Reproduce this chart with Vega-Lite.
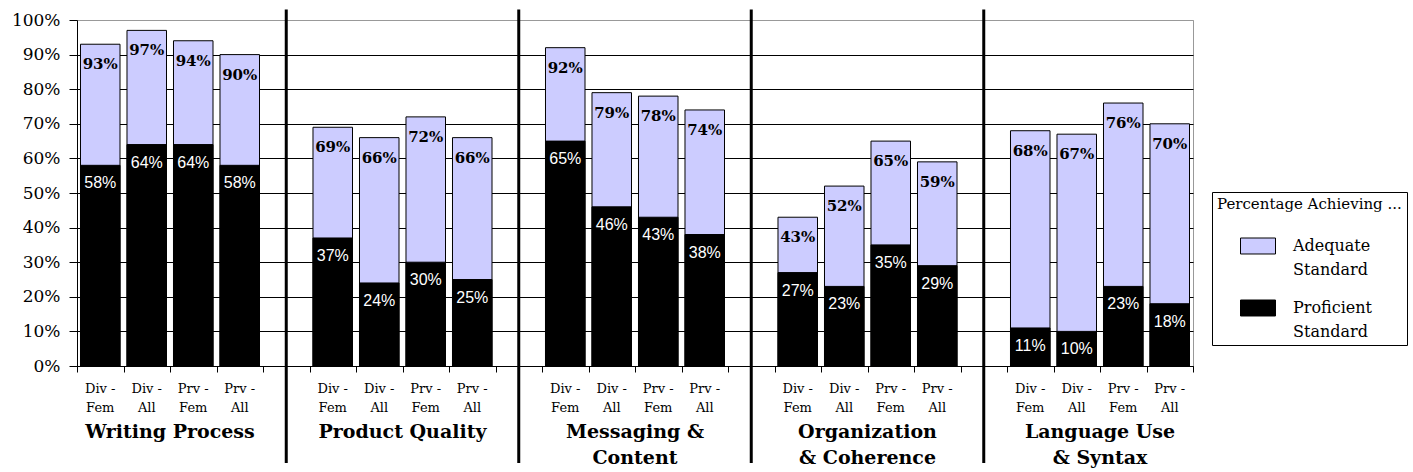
{
  "$schema": "https://vega.github.io/schema/vega-lite/v6.json",
  "width": 1116,
  "height": 346,
  "autosize": {"type": "none"},
  "padding": {"left": 77, "top": 20, "right": 220, "bottom": 106},
  "background": "white",
  "datasets": {
    "bars": [
      {"slot": "WP1", "measure": "Adequate Standard", "value": 0.93},
      {"slot": "WP2", "measure": "Adequate Standard", "value": 0.97},
      {"slot": "WP3", "measure": "Adequate Standard", "value": 0.94},
      {"slot": "WP4", "measure": "Adequate Standard", "value": 0.90},
      {"slot": "PQ1", "measure": "Adequate Standard", "value": 0.69},
      {"slot": "PQ2", "measure": "Adequate Standard", "value": 0.66},
      {"slot": "PQ3", "measure": "Adequate Standard", "value": 0.72},
      {"slot": "PQ4", "measure": "Adequate Standard", "value": 0.66},
      {"slot": "MC1", "measure": "Adequate Standard", "value": 0.92},
      {"slot": "MC2", "measure": "Adequate Standard", "value": 0.79},
      {"slot": "MC3", "measure": "Adequate Standard", "value": 0.78},
      {"slot": "MC4", "measure": "Adequate Standard", "value": 0.74},
      {"slot": "OC1", "measure": "Adequate Standard", "value": 0.43},
      {"slot": "OC2", "measure": "Adequate Standard", "value": 0.52},
      {"slot": "OC3", "measure": "Adequate Standard", "value": 0.65},
      {"slot": "OC4", "measure": "Adequate Standard", "value": 0.59},
      {"slot": "LU1", "measure": "Adequate Standard", "value": 0.68},
      {"slot": "LU2", "measure": "Adequate Standard", "value": 0.67},
      {"slot": "LU3", "measure": "Adequate Standard", "value": 0.76},
      {"slot": "LU4", "measure": "Adequate Standard", "value": 0.70},
      {"slot": "WP1", "measure": "Proficient Standard", "value": 0.58},
      {"slot": "WP2", "measure": "Proficient Standard", "value": 0.64},
      {"slot": "WP3", "measure": "Proficient Standard", "value": 0.64},
      {"slot": "WP4", "measure": "Proficient Standard", "value": 0.58},
      {"slot": "PQ1", "measure": "Proficient Standard", "value": 0.37},
      {"slot": "PQ2", "measure": "Proficient Standard", "value": 0.24},
      {"slot": "PQ3", "measure": "Proficient Standard", "value": 0.30},
      {"slot": "PQ4", "measure": "Proficient Standard", "value": 0.25},
      {"slot": "MC1", "measure": "Proficient Standard", "value": 0.65},
      {"slot": "MC2", "measure": "Proficient Standard", "value": 0.46},
      {"slot": "MC3", "measure": "Proficient Standard", "value": 0.43},
      {"slot": "MC4", "measure": "Proficient Standard", "value": 0.38},
      {"slot": "OC1", "measure": "Proficient Standard", "value": 0.27},
      {"slot": "OC2", "measure": "Proficient Standard", "value": 0.23},
      {"slot": "OC3", "measure": "Proficient Standard", "value": 0.35},
      {"slot": "OC4", "measure": "Proficient Standard", "value": 0.29},
      {"slot": "LU1", "measure": "Proficient Standard", "value": 0.11},
      {"slot": "LU2", "measure": "Proficient Standard", "value": 0.10},
      {"slot": "LU3", "measure": "Proficient Standard", "value": 0.23},
      {"slot": "LU4", "measure": "Proficient Standard", "value": 0.18}
    ],
    "cats": [
      {"slot": "WP1", "cat": "Div -\nFem"}, {"slot": "WP2", "cat": "Div -\nAll"}, {"slot": "WP3", "cat": "Prv -\nFem"}, {"slot": "WP4", "cat": "Prv -\nAll"},
      {"slot": "PQ1", "cat": "Div -\nFem"}, {"slot": "PQ2", "cat": "Div -\nAll"}, {"slot": "PQ3", "cat": "Prv -\nFem"}, {"slot": "PQ4", "cat": "Prv -\nAll"},
      {"slot": "MC1", "cat": "Div -\nFem"}, {"slot": "MC2", "cat": "Div -\nAll"}, {"slot": "MC3", "cat": "Prv -\nFem"}, {"slot": "MC4", "cat": "Prv -\nAll"},
      {"slot": "OC1", "cat": "Div -\nFem"}, {"slot": "OC2", "cat": "Div -\nAll"}, {"slot": "OC3", "cat": "Prv -\nFem"}, {"slot": "OC4", "cat": "Prv -\nAll"},
      {"slot": "LU1", "cat": "Div -\nFem"}, {"slot": "LU2", "cat": "Div -\nAll"}, {"slot": "LU3", "cat": "Prv -\nFem"}, {"slot": "LU4", "cat": "Prv -\nAll"}
    ],
    "gaps": [{"slot": "G1"}, {"slot": "G2"}, {"slot": "G3"}, {"slot": "G4"}],
    "groups": [
      {"slot": "WP3", "group": "Writing Process"},
      {"slot": "PQ3", "group": "Product Quality"},
      {"slot": "MC3", "group": "Messaging &\nContent"},
      {"slot": "OC3", "group": "Organization\n& Coherence"},
      {"slot": "LU3", "group": "Language Use\n& Syntax"}
    ]
  },
  "encoding": {
    "x": {
      "field": "slot", "type": "nominal", "title": null,
      "scale": {"type": "band", "paddingInner": 0, "paddingOuter": 0,
        "domain": ["WP1","WP2","WP3","WP4","G1","PQ1","PQ2","PQ3","PQ4","G2","MC1","MC2","MC3","MC4","G3","OC1","OC2","OC3","OC4","G4","LU1","LU2","LU3","LU4"]}
    }
  },
  "layer": [
    {
      "data": {"name": "bars"},
      "mark": {"type": "bar", "width": {"band": 0.85}, "stroke": "black", "strokeWidth": 1},
      "encoding": {
        "y": {
          "field": "value", "type": "quantitative", "stack": null, "title": null,
          "scale": {"domain": [0, 1], "nice": false},
          "axis": {"values": [0, 0.1, 0.2, 0.3, 0.4, 0.5, 0.6, 0.7, 0.8, 0.9, 1], "format": ".0%", "gridColor": {"condition": {"test": "datum.value >= 1", "value": "#999999"}, "value": "#000000"}}
        },
        "fill": {
          "field": "measure", "type": "nominal",
          "scale": {"domain": ["Adequate Standard", "Proficient Standard"], "range": ["#CCCCFF", "#000000"]},
          "legend": {"title": "Percentage Achieving ...", "labelExpr": "split(datum.label, ' ')"}
        }
      }
    },
    {
      "data": {"name": "bars"},
      "transform": [{"filter": "datum.measure == 'Adequate Standard'"}],
      "mark": {"type": "text", "font": "DejaVu Serif", "fontWeight": "bold", "fontSize": 15, "color": "black", "baseline": "middle", "dy": 20},
      "encoding": {
        "y": {"field": "value", "type": "quantitative", "title": null, "axis": {"values": [0, 0.1, 0.2, 0.3, 0.4, 0.5, 0.6, 0.7, 0.8, 0.9, 1], "format": ".0%", "gridColor": {"condition": {"test": "datum.value >= 1", "value": "#999999"}, "value": "#000000"}}},
        "text": {"field": "value", "type": "quantitative", "format": ".0%"}
      }
    },
    {
      "data": {"name": "bars"},
      "transform": [{"filter": "datum.measure == 'Proficient Standard'"}],
      "mark": {"type": "text", "font": "Liberation Sans", "fontSize": 16, "color": "white", "baseline": "middle", "dy": 18},
      "encoding": {
        "y": {"field": "value", "type": "quantitative", "title": null, "axis": {"values": [0, 0.1, 0.2, 0.3, 0.4, 0.5, 0.6, 0.7, 0.8, 0.9, 1], "format": ".0%", "gridColor": {"condition": {"test": "datum.value >= 1", "value": "#999999"}, "value": "#000000"}}},
        "text": {"field": "value", "type": "quantitative", "format": ".0%"}
      }
    },
    {
      "data": {"name": "cats"},
      "mark": {"type": "text", "font": "DejaVu Serif", "fontSize": 13, "color": "black", "baseline": "top", "lineBreak": "\n", "lineHeight": 19},
      "encoding": {
        "y": {"datum": -0.049, "type": "quantitative", "title": null, "axis": {"values": [0, 0.1, 0.2, 0.3, 0.4, 0.5, 0.6, 0.7, 0.8, 0.9, 1], "format": ".0%", "gridColor": {"condition": {"test": "datum.value >= 1", "value": "#999999"}, "value": "#000000"}}},
        "text": {"field": "cat"}
      }
    },
    {
      "data": {"name": "groups"},
      "mark": {"type": "text", "font": "DejaVu Serif", "fontWeight": "bold", "fontSize": 19, "color": "black", "baseline": "top", "lineBreak": "\n", "lineHeight": 26},
      "encoding": {
        "x": {
          "field": "slot", "type": "nominal", "title": null, "bandPosition": 0,
          "scale": {"type": "band", "paddingInner": 0, "paddingOuter": 0,
            "domain": ["WP1","WP2","WP3","WP4","G1","PQ1","PQ2","PQ3","PQ4","G2","MC1","MC2","MC3","MC4","G3","OC1","OC2","OC3","OC4","G4","LU1","LU2","LU3","LU4"]}
        },
        "y": {"datum": -0.165, "type": "quantitative", "title": null, "axis": {"values": [0, 0.1, 0.2, 0.3, 0.4, 0.5, 0.6, 0.7, 0.8, 0.9, 1], "format": ".0%", "gridColor": {"condition": {"test": "datum.value >= 1", "value": "#999999"}, "value": "#000000"}}},
        "text": {"field": "group"}
      }
    },
    {
      "data": {"name": "gaps"},
      "mark": {"type": "rule", "color": "black", "strokeWidth": 3},
      "encoding": {
        "y": {"datum": 1.03, "type": "quantitative", "title": null, "axis": {"values": [0, 0.1, 0.2, 0.3, 0.4, 0.5, 0.6, 0.7, 0.8, 0.9, 1], "format": ".0%", "gridColor": {"condition": {"test": "datum.value >= 1", "value": "#999999"}, "value": "#000000"}}},
        "y2": {"datum": -0.28}
      }
    }
  ],
  "config": {
    "view": {"stroke": "#999999", "strokeWidth": 1},
    "style": {"guide-label": {"lineHeight": 24}},
    "axisX": {"labels": false, "ticks": true, "tickBand": "extent", "tickSize": 6, "tickColor": "black", "domainColor": "black", "grid": false},
    "axisY": {
      "labelFont": "DejaVu Serif", "labelFontSize": 17, "labelColor": "black",
      "tickColor": "black", "tickSize": 8, "labelPadding": 9, "domainColor": "black",
      "labelOverlap": false, "grid": true, "gridOpacity": 1, "gridWidth": 1
    },
    "legend": {
      "orient": "none", "legendX": 1135, "legendY": 172,
      "titleFont": "DejaVu Serif", "titleFontSize": 15, "titleFontWeight": "normal", "titleColor": "black", "titleLimit": 300, "titlePadding": 16,
      "labelFont": "DejaVu Serif", "labelFontSize": 16, "labelColor": "black", "labelLimit": 200,
      "labelOffset": 17,
      "symbolType": "M-1,-0.457H1V0.457H-1Z", "symbolSize": 1225, "symbolStrokeColor": "black", "symbolStrokeWidth": 1, "symbolOffset": 23,
      "rowPadding": 12, "strokeColor": "black", "fillColor": "white", "padding": 5
    }
  }
}
